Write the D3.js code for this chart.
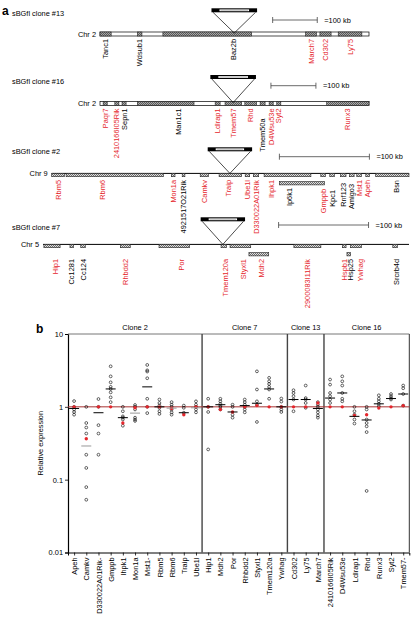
<!DOCTYPE html>
<html><head><meta charset="utf-8">
<script src="https://cdn.jsdelivr.net/npm/d3@7"></script>
<style>
html,body{margin:0;padding:0;background:#fff;}
svg{display:block;font-family:"Liberation Sans",Arial,sans-serif;}
</style></head>
<body>
<svg id="chart" width="411" height="620"></svg>
<script>
// ---------------- DATA: panel a (gene maps, positions in kb) ----------------
// [name, startKb, endKb, tested(red), row, labelAtKb]
const clone13Genes = [
  ["Tanc1", 0, 25, false, 1],
  ["Wdsub1", 84, 94, false, 1],
  ["Baz2b", 141, 340, false, 1, 298],
  ["March7", 461, 485, true, 1],
  ["Cd302", 493, 518, true, 1],
  ["Ly75", 534, 587, true, 1]
];
const clone16Genes = [
  ["Paqr7", 7, 16, true, 1],
  ["2410166I05Rik", 33, 42, true, 1],
  ["Sepn1", 49, 58, false, 1],
  ["Man1c1", 83, 209, false, 1, 174],
  ["Ldlrap1", 256, 267, true, 1],
  ["Tmem57", 278, 315, true, 1],
  ["Rhd", 322, 348, true, 1],
  ["Tmem50a", 356, 367, false, 1],
  ["D4Wsu53e", 376, 385, true, 1],
  ["Syt2", 393, 402, true, 1],
  ["Runx3", 504, 598, true, 1]
];
const clone2Genes = [
  ["Rbm5", 0, 14, true, 1],
  ["Rbm6", 16, 124, true, 1, 56],
  ["Mon1a", 133, 137, true, 1],
  ["4921517O21Rik", 145, 148, false, 1],
  ["Camkv", 165, 174, true, 1],
  ["Traip", 186, 211, true, 1, 196],
  ["Ube1l", 215, 220, true, 1],
  ["D330022A01Rik", 224, 230, true, 1],
  ["Ihpk1", 236, 288, true, 1, 244],
  ["Ip6k1", 253, 303, false, 2, 264],
  ["Gmppb", 299, 304, true, 1],
  ["Kpc1", 309, 314, false, 1],
  ["Rnf123", 321, 327, false, 1],
  ["Amigo3", 331, 336, false, 1],
  ["Mst1", 339, 344, true, 1],
  ["Apeh", 349, 353, true, 1],
  ["Bsn", 360, 397, false, 1, 383]
];
const clone7Genes = [
  ["Hip1", 1, 19, true, 1, 14],
  ["Cc1281", 30, 34, false, 1],
  ["Cc124", 42, 47, false, 1],
  ["Rhbdd2", 86, 97, true, 1],
  ["Por", 129, 163, true, 1, 154],
  ["Tmem120a", 198, 204, true, 1, 203],
  ["Styxl1", 208, 231, true, 1, 223],
  ["Mdh2", 229, 251, true, 2, 243],
  ["2900083I11Rik", 279, 309, true, 1],
  ["Hspb1", 333, 337, true, 1],
  ["Hsp25", 338, 342, false, 2, 342],
  ["Ywhag", 342, 354, true, 1, 353],
  ["Srcrb4d", 389, 394, false, 1, 393]
];
const cloneTitles = ["sBGfl clone #13", "sBGfl clone #16", "sBGfl clone #2", "sBGfl clone #7"];
const cloneChr = ["Chr 2", "Chr 2", "Chr 9", "Chr 5"];
const cloneLengthKb = [603, 598, 397, 407];
const cloneInsertKb = [301, 296, 198, 200];
const cloneScaleStartKb = [387, 380, 253, 262];
const scaleBarKb = 100;

// ---------------- DATA: panel b (relative expression) ----------------
const exprGenes = ["Apeh","Camkv","D330022A01Rik","Gmppb","Ihpk1","Mon1a","Mst1","Rbm5","Rbm6","Traip","Ube1l",
  "Hip1","Mdh2","Por","Rhbdd2","Styxl1","Tmem120a","Ywhag",
  "Cd302","Ly75","March7",
  "2410166I05Rik","D4Wsu53e","Ldlrap1","Rhd","Runx3","Syt2","Tmem57"];
const exprTickLabels = ["Apeh","Camkv","D330022A01Rik-","Gmppb","Ihpk1","Mon1a","Mst1-","Rbm5","Rbm6","Traip","Ube1l",
  "Hip1","Mdh2","Por","Rhbdd2","Styxl1","Tmem120a","Ywhag",
  "Cd302","Ly75","March7",
  "2410166I05Rik","D4Wsu53e","Ldlrap1","Rhd","Runx3","Syt2","Tmem57-"];
const exprGroups = ["Clone 2", "Clone 7", "Clone 13", "Clone 16"];
const exprGroupSizes = [11, 7, 3, 7];
const exprSamples = [
  [1.2,1.0,0.92,0.85,0.78],
  [1.0,0.6,0.52,0.43,0.22,0.145,0.079,0.053],
  [1.28,1.0,0.56,0.43,0.22],
  [3.6,2.62,2.17,1.88,1.76,1.58,1.35,1.16],
  [1.0,0.87,0.74,0.71,0.67,0.55],
  [1.06,1.0,0.92,0.71,0.67,0.64],
  [3.76,3.17,3.05,2.47,1.29,1.0,0.82],
  [1.26,1.13,1.04,0.97,0.87,0.8],
  [1.16,1.07,1.0,0.92,0.84,0.78],
  [1.04,0.97,0.83],
  [1.19,1.07,1.0,0.92,0.84],
  [1.29,1.0,0.85,0.26],
  [1.29,1.19,1.1,1.04,1.0,0.92],
  [1.07,1.0,0.78,0.71],
  [1.26,1.16,1.07,1.0,0.92,0.84],
  [3.07,1.73,1.19,1.07,0.62],
  [2.5,2.24,2.06,1.88,1.73,1.29],
  [1.3,1.18,1.0,0.92,0.85],
  [1.69,1.55,1.4,1.26,0.87],
  [1.96,1.32,1.26,1.13,0.97],
  [1.16,1.07,1.0,0.92,0.84,0.76,0.71],
  [2.37,2.02,1.55,1.4,1.26,1.13],
  [2.62,2.24,1.96,1.55,1.29,1.19],
  [1.0,0.87,0.78,0.67,0.59],
  [1.0,0.92,0.67,0.6,0.54,0.45,0.07],
  [1.44,1.29,1.19,1.1,1.02],
  [1.5,1.4,1.32,1.26],
  [1.96,1.8,1.5,1.04]
];
const exprReference = [1.0,0.365,1.0,1.0,0.6,0.97,1.0,1.0,0.95,0.78,1.0,
  1.0,0.92,0.85,1.0,1.04,1.0,1.0,
  1.0,1.0,1.13,
  1.0,1.0,0.76,0.78,0.96,1.0,1.04];
const exprMean = [0.95,0.29,0.83,1.76,0.71,0.82,1.88,1.0,0.96,0.83,0.97,
  1.0,1.07,0.85,1.04,1.12,1.76,1.0,
  1.26,1.26,0.95,
  1.32,1.55,0.74,0.66,1.1,1.3,1.5];
const exprMeanGray = [false,true,false,false,false,true,false,false,true,false,true,
  false,false,false,false,false,false,false,false,false,false,
  false,false,false,false,false,false,false];
const yTicks = [10, 1, 0.1, 0.01];
const yTickLabels = ["10", "1", "0.1", "0.01"];

// ---------------- STYLE / LAYOUT ----------------
const RED = "#e5262c";
const FS = 7.4;
const svg = d3.select("#chart");
svg.append("rect").attr("width", 411).attr("height", 620).attr("fill", "#fff");

const defs = svg.append("defs");
function makePattern(id, base, dot) {
  const p = defs.append("pattern").attr("id", id).attr("width", 2).attr("height", 2)
    .attr("patternUnits", "userSpaceOnUse");
  p.append("rect").attr("width", 2).attr("height", 2).attr("fill", base);
  p.append("rect").attr("width", 1).attr("height", 1).attr("fill", dot);
  p.append("rect").attr("x", 1).attr("y", 1).attr("width", 1).attr("height", 1).attr("fill", dot);
}
makePattern("hatchDark", "#a8a8a8", "#5a5a5a");
makePattern("hatchLight", "#e0e0e0", "#6a6a6a");

const labelDrop = {"Tmem50a": 10, "Gmppb": 9, "Kpc1": 10, "Rnf123": 3, "Amigo3": 4};

const mapLayout = [
  {genes: clone13Genes, style: "bar", x0: 100, x1: 369, titleY: 16, chrY: 32, insertTop: 8.3, scaleY: 20, labelTop: 39},
  {genes: clone16Genes, style: "bar", x0: 100, x1: 369, titleY: 84, chrY: 101.6, insertTop: 75, scaleY: 85.7, labelTop: 108.5},
  {genes: clone2Genes, style: "line", x0: 51.7, x1: 409, titleY: 154, chrY: 173.4, insertTop: 147.3, scaleY: 156.7, labelTop: 180},
  {genes: clone7Genes, style: "line", x0: 43, x1: 409, titleY: 230, chrY: 244.4, insertTop: 217.3, scaleY: 225, labelTop: 259}
];

// panel letters
svg.append("text").attr("x", 2).attr("y", 15).attr("font-size", 12).attr("font-weight", "bold").text("a");
svg.append("text").attr("x", 36).attr("y", 333).attr("font-size", 12).attr("font-weight", "bold").text("b");

mapLayout.forEach((L, i) => {
  const g = svg.append("g");
  const x = d3.scaleLinear().domain([0, cloneLengthKb[i]]).range([L.x0, L.x1]);
  g.append("text").attr("x", 12).attr("y", L.titleY).attr("font-size", FS).text(cloneTitles[i]);
  const barH = L.style === "bar" ? 4 : 3.3;
  const chrCenter = L.style === "bar" ? L.chrY + 2 : L.chrY + 0.5;
  g.append("text").attr("x", L.x0 - 4).attr("y", chrCenter).attr("dy", "0.35em")
    .attr("text-anchor", "end").attr("font-size", FS).text(cloneChr[i]);

  if (L.style === "bar") {
    g.append("rect").attr("x", x(0)).attr("y", L.chrY).attr("width", x(cloneLengthKb[i]) - x(0))
      .attr("height", barH).attr("fill", "#fff").attr("stroke", "#000").attr("stroke-width", 0.7);
    g.selectAll("rect.gene").data(L.genes).join("rect").attr("class", "gene")
      .attr("x", d => x(d[1])).attr("y", L.chrY).attr("width", d => x(d[2]) - x(d[1]))
      .attr("height", barH).attr("fill", "url(#hatchDark)").attr("stroke", "#222").attr("stroke-width", 0.6);
  } else {
    g.append("line").attr("x1", x(0)).attr("x2", x(cloneLengthKb[i])).attr("y1", L.chrY).attr("y2", L.chrY)
      .attr("stroke", "#000").attr("stroke-width", 1);
    g.selectAll("rect.gene").data(L.genes).join("rect").attr("class", "gene")
      .attr("x", d => x(d[1])).attr("y", d => d[4] === 2 ? L.chrY + 8.2 : L.chrY)
      .attr("width", d => x(d[2]) - x(d[1])).attr("height", barH)
      .attr("fill", "url(#hatchLight)").attr("stroke", "#222").attr("stroke-width", 0.6);
  }

  // labels
  g.selectAll("text.gl").data(L.genes).join("text").attr("class", "gl")
    .attr("transform", d => {
      const lx = x(d[5] !== undefined ? d[5] : (d[1] + d[2]) / 2);
      let ly = L.labelTop + (labelDrop[d[0]] || 0);
      if (d[4] === 2 && L.style === "line" && i === 2) ly = L.labelTop + 8;
      return `translate(${lx},${ly}) rotate(-90)`;
    })
    .attr("text-anchor", "end").attr("dy", "0.35em").attr("font-size", FS)
    .attr("fill", d => d[3] ? RED : "#000").text(d => d[0]);

  // insertion (triangle + vector bar)
  const ix = x(cloneInsertKb[i]);
  const iw = L.style === "bar" ? 45.6 : 44.4;
  const ih = 4;
  const apexY = L.style === "bar" ? L.chrY + 1 : L.chrY;
  g.append("path").attr("d", `M${ix - iw / 2 + 1.5},${L.insertTop + ih} L${ix},${apexY} L${ix + iw / 2 - 1.5},${L.insertTop + ih}`)
    .attr("fill", "none").attr("stroke", "#000").attr("stroke-width", 0.7);
  g.append("rect").attr("x", ix - iw / 2).attr("y", L.insertTop).attr("width", iw).attr("height", ih).attr("fill", "#000");
  g.append("rect").attr("x", ix - iw / 2 + 8).attr("y", L.insertTop + 1.1).attr("width", iw - 16).attr("height", 1.8).attr("fill", "#fff");
  g.append("line").attr("x1", ix - iw / 2 + 9).attr("x2", ix + iw / 2 - 9).attr("y1", L.insertTop + 2).attr("y2", L.insertTop + 2)
    .attr("stroke", "#999").attr("stroke-width", 0.6);

  // scale bar
  const sx0 = x(cloneScaleStartKb[i]), sx1 = x(cloneScaleStartKb[i] + scaleBarKb);
  g.append("line").attr("x1", sx0).attr("x2", sx1).attr("y1", L.scaleY).attr("y2", L.scaleY).attr("stroke", "#444").attr("stroke-width", 0.8);
  [sx0, sx1].forEach(v => g.append("line").attr("x1", v).attr("x2", v).attr("y1", L.scaleY - 3).attr("y2", L.scaleY + 3)
    .attr("stroke", "#444").attr("stroke-width", 0.8));
  g.append("text").attr("x", sx1 + 7).attr("y", L.scaleY).attr("dy", "0.35em").attr("font-size", FS).text("=100 kb");
});

// ---------------- panel b ----------------
const pb = {left: 68, right: 409.3, top: 334, bottom: 552.5};
const xb = d3.scalePoint().domain(exprGenes).range([pb.left, pb.right]).padding(0.5);
const yb = d3.scaleLog().domain([0.01, 10]).range([pb.bottom, pb.top]);
const gb = svg.append("g");

// y axis
const yAxis = d3.axisLeft(yb).tickValues(yTicks).tickFormat((d, i) => yTickLabels[i]).tickSize(3).tickPadding(2);
const ya = gb.append("g").attr("transform", `translate(${pb.left},0)`).call(yAxis);
ya.select(".domain").attr("stroke", "#000").attr("stroke-width", 1.2);
ya.selectAll("text").attr("font-size", FS).attr("font-family", "Liberation Sans, Arial, sans-serif");
ya.selectAll(".tick line").attr("stroke-width", 0.8);

// x axis
const xAxis = d3.axisBottom(xb).tickFormat((d, i) => exprTickLabels[i]).tickSize(3).tickPadding(2);
const xa = gb.append("g").attr("transform", `translate(0,${pb.bottom})`).call(xAxis);
xa.select(".domain").attr("stroke", "#000").attr("stroke-width", 1);
xa.selectAll(".tick line").attr("stroke-width", 0.8);
xa.selectAll("text").attr("font-size", FS).attr("font-family", "Liberation Sans, Arial, sans-serif")
  .attr("text-anchor", "end").attr("transform", "rotate(-90)").attr("x", -5).attr("y", 0).attr("dy", "0.35em");

// top border
gb.append("line").attr("x1", pb.left).attr("x2", pb.right).attr("y1", pb.top).attr("y2", pb.top)
  .attr("stroke", "#777").attr("stroke-width", 1);
// right border
gb.append("line").attr("x1", pb.right).attr("x2", pb.right).attr("y1", pb.top).attr("y2", pb.bottom)
  .attr("stroke", "#333").attr("stroke-width", 1);

// group separators and titles
let startIdx = 0;
exprGroups.forEach((name, gi) => {
  const n = exprGroupSizes[gi];
  const first = exprGenes[startIdx], last = exprGenes[startIdx + n - 1];
  const xl = xb(first) - xb.step() / 2, xr = xb(last) + xb.step() / 2;
  gb.append("text").attr("x", (xl + xr) / 2).attr("y", pb.top - 4).attr("text-anchor", "middle")
    .attr("font-size", FS).text(name);
  if (gi < exprGroups.length - 1) {
    gb.append("line").attr("x1", xr).attr("x2", xr).attr("y1", pb.top).attr("y2", pb.bottom)
      .attr("stroke", "#444").attr("stroke-width", 1.4);
  }
  startIdx += n;
});

// reference line at 1
gb.append("line").attr("x1", pb.left).attr("x2", pb.right).attr("y1", yb(1)).attr("y2", yb(1))
  .attr("stroke", "#a83232").attr("stroke-width", 1);

// y label
gb.append("text").attr("transform", `translate(40,${(yb(1) + yb(0.1)) / 2 + 0}) rotate(-90)`)
  .attr("text-anchor", "middle").attr("dy", "0.35em").attr("font-size", FS).text("Relative expression");

// samples
exprGenes.forEach((gname, gi) => {
  const cx = xb(gname);
  gb.selectAll(null).data(exprSamples[gi]).join("circle")
    .attr("cx", cx).attr("cy", d => yb(d)).attr("r", 1.4)
    .attr("fill", "none").attr("stroke", "#000").attr("stroke-width", 0.6);
  gb.append("circle").attr("cx", cx).attr("cy", yb(exprReference[gi])).attr("r", 1.7).attr("fill", RED);
  gb.append("line").attr("x1", cx - 5).attr("x2", cx + 5).attr("y1", yb(exprMean[gi])).attr("y2", yb(exprMean[gi]))
    .attr("stroke", exprMeanGray[gi] ? "#999" : "#000").attr("stroke-width", 1);
});
</script>
</body></html>
